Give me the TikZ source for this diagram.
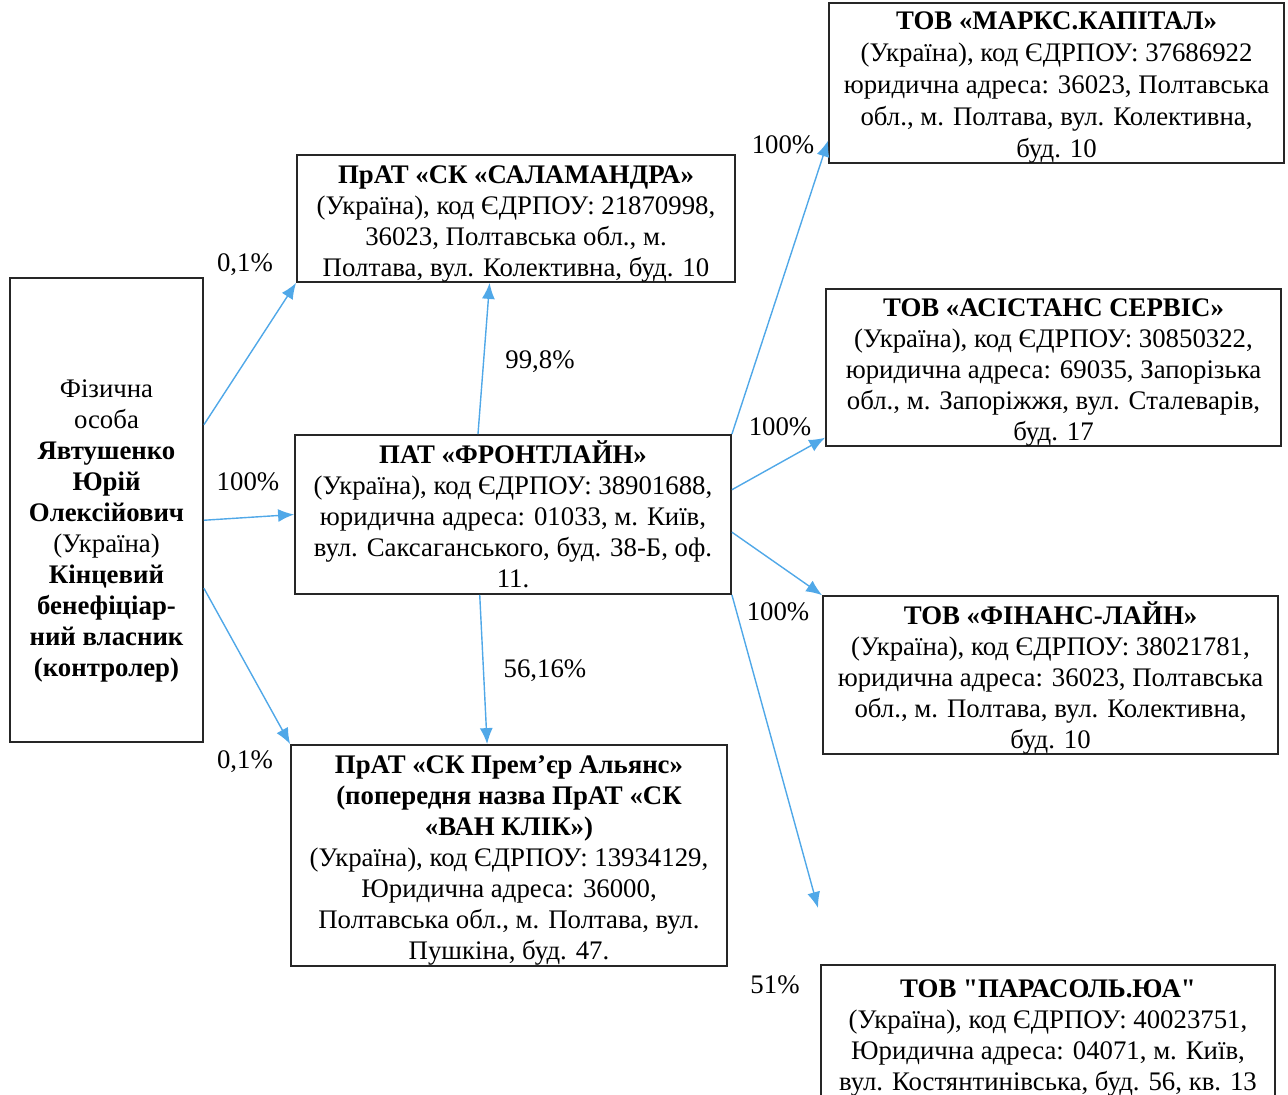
\documentclass[tikz,border=0pt]{standalone}
\usepackage{fontspec}
\setmainfont{Liberation Serif}[Ligatures=TeXOff]
\usetikzlibrary{calc,arrows.meta}
\definecolor{linkblue}{RGB}{80,168,232}
\newcommand{\lift}[1]{\rule{0pt}{#1}}
\tikzset{
    firm/.style={draw=black!85, line width=0.9pt, inner sep=0pt, align=center,
        font=\fontsize{13.4}{15.5}\selectfont},
    share/.style={font=\fontsize{13.4}{15.5}\selectfont},
    link/.style={draw=linkblue, line width=0.7pt, -{Latex[length=8pt,width=6.5pt]}}
}
\begin{document}
\begin{tikzpicture}[x=0.5pt,y=-0.5pt]
    \useasboundingbox (0,0) rectangle (1288,1095);

    \coordinate (P) at (106.5,510);
    \coordinate (S) at (516,218.5);
    \coordinate (F) at (513,514.5);
    \coordinate (A) at (509,855.5);
    \coordinate (M) at (1056.5,83);
    \coordinate (C) at (1053.5,367.5);
    \coordinate (L) at (1050.5,675);
    \coordinate (U) at (1048,1030.5);
    \coordinate (free) at (818,908);

    \node[firm, minimum width=96.5pt, minimum height=232pt] (per) at (P)
        {\lift{30pt}Фізична\\особа\\\textbf{Явтушенко}\\\textbf{Юрій}\\\textbf{Олексійович}\\(Україна)\\
         \textbf{Кінцевий}\\\textbf{бенефіціар-}\\\textbf{ний власник}\\\textbf{(контролер)}};
    \node[firm, minimum width=219pt, minimum height=63.5pt] (sal) at (S)
        {\lift{14pt}\textbf{ПрАТ «СК «САЛАМАНДРА»}\\(Україна), код ЄДРПОУ: 21870998,\\
         36023, Полтавська обл., м.\\Полтава, вул. Колективна, буд. 10};
    \node[firm, minimum width=218pt, minimum height=79.5pt] (fron) at (F)
        {\textbf{ПАТ «ФРОНТЛАЙН»}\\(Україна), код ЄДРПОУ: 38901688,\\
         юридична адреса: 01033, м. Київ,\\вул. Саксаганського, буд. 38-Б, оф.\\11.};
    \node[firm, minimum width=218pt, minimum height=110.5pt] (prem) at (A)
        {\lift{14pt}\textbf{ПрАТ «СК Прем’єр Альянс»}\\\textbf{(попередня назва ПрАТ «СК}\\
         \textbf{«ВАН КЛІК»)}\\(Україна), код ЄДРПОУ: 13934129,\\Юридична адреса: 36000,\\
         Полтавська обл., м. Полтава, вул.\\Пушкіна, буд. 47.};
    \node[firm, minimum width=227.5pt, minimum height=80pt, font=\fontsize{13.4}{16}\selectfont] (marks) at (M)
        {\lift{13pt}\textbf{ТОВ «МАРКС.КАПІТАЛ»}\\(Україна), код ЄДРПОУ: 37686922\\
         юридична адреса: 36023, Полтавська\\обл., м. Полтава, вул. Колективна,\\буд. 10};
    \node[firm, minimum width=227.5pt, minimum height=78.5pt] (asist) at (C)
        {\lift{14pt}\textbf{ТОВ «АСІСТАНС СЕРВІС»}\\(Україна), код ЄДРПОУ: 30850322,\\
         юридична адреса: 69035, Запорізька\\обл., м. Запоріжжя, вул. Сталеварів,\\буд. 17};
    \node[firm, minimum width=227.5pt, minimum height=77pt] (fin) at (L)
        {\lift{14pt}\textbf{ТОВ «ФІНАНС-ЛАЙН»}\\(Україна), код ЄДРПОУ: 38021781,\\
         юридична адреса: 36023, Полтавська\\обл., м. Полтава, вул. Колективна,\\буд. 10};
    \node[firm, minimum width=227pt, minimum height=63.5pt] (paras) at (U)
        {\lift{16pt}\textbf{ТОВ "ПАРАСОЛЬ.ЮА"}\\(Україна), код ЄДРПОУ: 40023751,\\
         Юридична адреса: 04071, м. Київ,\\вул. Костянтинівська, буд. 56, кв. 13};

    \draw[link] ($(per.north east)!0.317!(per.south east)$) -- (sal.south west);
    \draw[link] ($(per.north east)!0.522!(per.south east)$) -- (fron.west);
    \draw[link] ($(per.north east)!0.668!(per.south east)$) -- (prem.north west);
    \draw[link] ($(fron.north west)!0.42!(fron.north east)$) -- ($(sal.south west)!0.44!(sal.south east)$);
    \draw[link] ($(fron.south west)!0.424!(fron.south east)$) -- ($(prem.north west)!0.45!(prem.north east)$);
    \draw[link] (fron.north east) -- ($(marks.north west)!0.856!(marks.south west)$);
    \draw[link] ($(fron.north east)!0.346!(fron.south east)$) -- ($(asist.north west)!0.94!(asist.south west)$);
    \draw[link] ($(fron.north east)!0.61!(fron.south east)$) -- (fin.north west);
    \draw[link] (fron.south east) -- (free);

    \node[share] (s1) at (245,265) {0,1\%};
    \node[share] (s2) at (248,482) {100\%};
    \node[share] (s3) at (245,762) {0,1\%};
    \node[share] (s4) at (540,362) {99,8\%};
    \node[share] (s5) at (545,671) {56,16\%};
    \node[share] (s6) at (783,145) {100\%};
    \node[share] (s7) at (780,427) {100\%};
    \node[share] (s8) at (778,612) {100\%};
    \node[share] (s9) at (775,985) {51\%};
\end{tikzpicture}
\end{document}
